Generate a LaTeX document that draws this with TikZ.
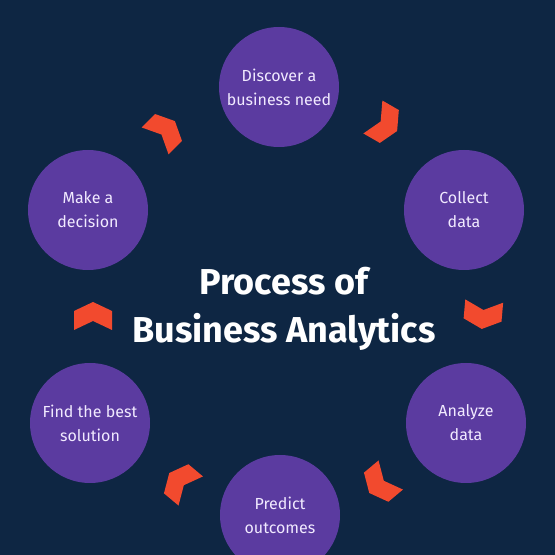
\documentclass[tikz,border=0pt]{standalone}
\usepackage{fontspec}
\setmainfont{Fira Sans}
\usetikzlibrary{positioning}

\definecolor{navy}{HTML}{0E2643}
\definecolor{stageviolet}{HTML}{5B3BA0}
\definecolor{chevred}{HTML}{F24A2E}
\definecolor{lilac}{HTML}{F1EAFF}

\begin{document}
\begin{tikzpicture}[x=1pt, y=1pt,
    stage/.style={circle, fill=stageviolet, minimum size=120pt, inner sep=0pt,
        align=center, text=lilac, font=\fontsize{16}{24}\selectfont},
    chevron/.style={fill=chevred}]

        % Draw background
        \fill[navy] (0,0) rectangle (555,555);
        \useasboundingbox (0,0) rectangle (555,555);

        % Stages of the cycle
        \node[stage] (discover) at (279,468) {Discover a\\business need};
        \node[stage] (collect)  at (464,345) {Collect\\data};
        \node[stage] (analyze)  at (466,132) {Analyze\\data};
        \node[stage] (predict)  at (280,40)  {Predict\\outcomes};
        \node[stage] (find)     at (90,132)  {Find the best\\solution};
        \node[stage] (decide)   at (88,345)  {Make a\\decision};

        % Title
        \node[align=center, text=white, font=\fontsize{36}{48}\selectfont\bfseries]
            (title) at (284,246) {Process of\\Business Analytics};

        % Chevrons between the stages
        \foreach \x/\y/\a in {165/424/45, 385/431/-30, 483/240/-95,
                              380/71/-140, 180/73/140, 93/239/90}
            \fill[chevron, shift={(\x,\y)}, rotate=\a]
                (14,0) -- (5,19) -- (-14,19) -- (-5,0) -- (-14,-19) -- (5,-19) -- cycle;

    \end{tikzpicture}
\end{document}
